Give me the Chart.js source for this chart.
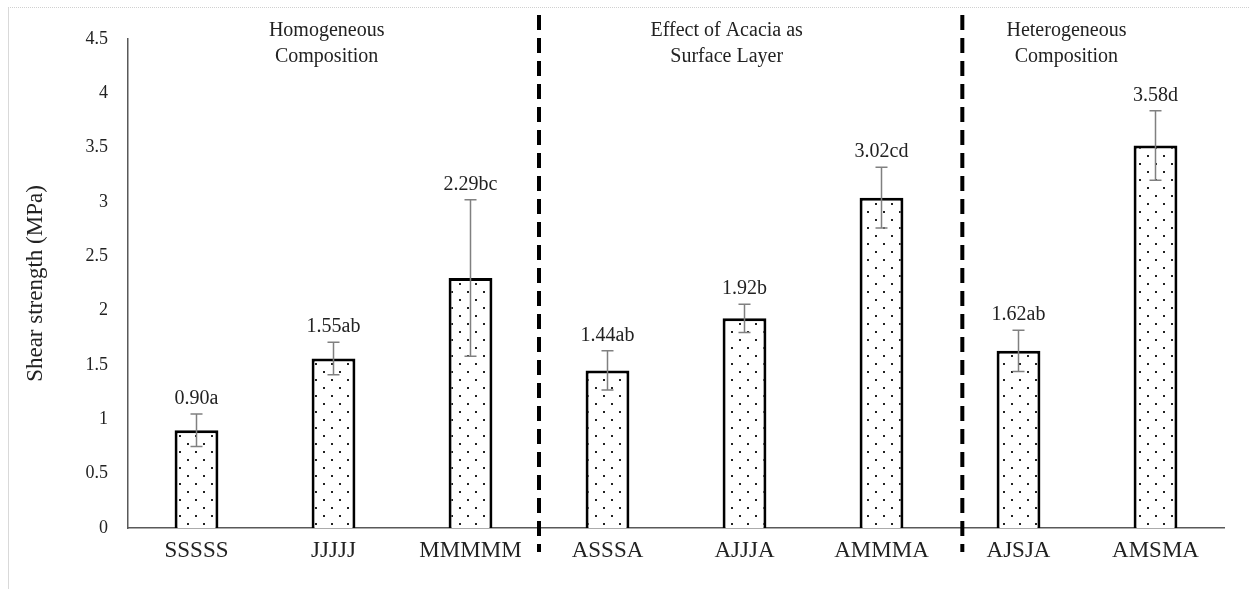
<html lang="en">
<head>
    <meta charset="UTF-8">
    <title>Shear strength</title>
    <style>
        body { margin: 0; background: #fff; }
        .frame {
            position: absolute; left: 8px; top: 7px; width: 1242px; height: 582px;
            border-left: 1px solid #d9d9d9; border-top: 1px dotted #d0d0d0;
        }
        .wrap { position: absolute; left: 0; top: 0; width: 1250px; height: 589px; }
    </style>
    <script src="https://cdn.jsdelivr.net/npm/chart.js"></script>
</head>
<body>
    <div class="frame"></div>
    <div class="wrap"><canvas id="viz"></canvas></div>
    <script>
        const categories = ['SSSSS', 'JJJJJ', 'MMMMM', 'ASSSA', 'AJJJA', 'AMMMA', 'AJSJA', 'AMSMA']
        const strength = [0.90, 1.56, 2.30, 1.45, 1.93, 3.04, 1.63, 3.52]
        const errors = [0.15, 0.15, 0.72, 0.18, 0.13, 0.28, 0.19, 0.32]
        const barLabels = ['0.90a', '1.55ab', '2.29bc', '1.44ab', '1.92b', '3.02cd', '1.62ab', '3.58d']
        const groupTitles = [
            ['Homogeneous', 'Composition'],
            ['Effect of Acacia as', 'Surface Layer'],
            ['Heterogeneous', 'Composition']
        ]
        const groupCentres = [0.95, 3.87, 6.35]
        const dividers = [2.5, 5.59]

        const FONT = '"Liberation Serif", "DejaVu Serif", serif'

        // dotted fill like the original bars
        function dotPattern() {
            const c = document.createElement('canvas')
            c.width = 16
            c.height = 16
            const g = c.getContext('2d')
            g.fillStyle = '#fff'
            g.fillRect(0, 0, 16, 16)
            g.fillStyle = '#222'
            g.fillRect(3, 3, 2, 2)
            g.fillRect(11, 11, 2, 2)
            return g.createPattern(c, 'repeat')
        }

        const extras = {
            id: 'extras',
            afterDatasetsDraw(chart) {
                const { ctx, scales: { x, y } } = chart
                ctx.save()
                // error bars
                ctx.strokeStyle = '#808080'
                ctx.lineWidth = 1.5
                strength.forEach((v, i) => {
                    const px = x.getPixelForValue(i)
                    const top = y.getPixelForValue(v + errors[i])
                    const bot = y.getPixelForValue(v - errors[i])
                    ctx.beginPath()
                    ctx.moveTo(px, top); ctx.lineTo(px, bot)
                    ctx.moveTo(px - 6, top); ctx.lineTo(px + 6, top)
                    ctx.moveTo(px - 6, bot); ctx.lineTo(px + 6, bot)
                    ctx.stroke()
                })
                // value letters
                ctx.fillStyle = '#222'
                ctx.font = '20px ' + FONT
                ctx.textAlign = 'center'
                ctx.textBaseline = 'alphabetic'
                barLabels.forEach((t, i) => {
                    const px = x.getPixelForValue(i)
                    const top = y.getPixelForValue(strength[i] + errors[i])
                    ctx.fillText(t, px, top - 10)
                })
                // group dividers
                ctx.strokeStyle = '#000'
                ctx.lineWidth = 4
                ctx.setLineDash([15, 8])
                dividers.forEach(d => {
                    const px = x.getPixelForValue(d)
                    ctx.beginPath()
                    ctx.moveTo(px, 15)
                    ctx.lineTo(px, 552)
                    ctx.stroke()
                })
                ctx.setLineDash([])
                // group titles
                ctx.font = '20px ' + FONT
                ctx.textBaseline = 'middle'
                groupTitles.forEach((lines, i) => {
                    const px = x.getPixelForValue(groupCentres[i])
                    lines.forEach((l, k) => ctx.fillText(l, px, 31 + k * 26))
                })
                ctx.restore()
            }
        }

        window.onload = () => {
            const viz = document.getElementById('viz')
            new Chart(viz, {
                type: 'bar',
                data: {
                    labels: categories,
                    datasets: [{
                        data: strength,
                        backgroundColor: dotPattern(),
                        borderColor: '#000',
                        borderWidth: 3,
                        barPercentage: 0.32,
                        categoryPercentage: 1
                    }]
                },
                options: {
                    responsive: true,
                    maintainAspectRatio: false,
                    animation: false,
                    layout: { padding: { left: 0, right: 26, top: 39, bottom: 0 } },
                    plugins: { legend: { display: false }, tooltip: { enabled: false } },
                    scales: {
                        x: {
                            grid: { display: false, drawTicks: false },
                            border: { color: '#595959', width: 1.5 },
                            ticks: { color: '#222', font: { family: FONT, size: 23 }, padding: 9 },
                            afterFit: s => { s.height = 61 }
                        },
                        y: {
                            min: 0,
                            max: 4.5,
                            grid: { display: false, drawTicks: false },
                            border: { color: '#595959', width: 1.5 },
                            ticks: {
                                stepSize: 0.5,
                                color: '#222',
                                font: { family: FONT, size: 18 },
                                padding: 20,
                                callback: v => String(v)
                            },
                            title: {
                                display: true,
                                text: 'Shear strength (MPa)',
                                color: '#222',
                                font: { family: FONT, size: 23 },
                                padding: { top: 22, bottom: 0 }
                            },
                            afterFit: s => { s.width = 128 }
                        }
                    }
                },
                plugins: [extras]
            })
        }
    </script>
</body>
</html>
